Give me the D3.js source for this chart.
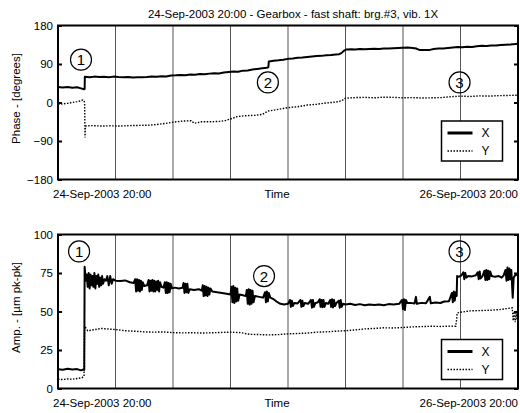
<!DOCTYPE html>
<html>
<head>
<meta charset="utf-8">
<script src="https://cdn.jsdelivr.net/npm/d3@7"></script>
<style>
body { margin: 0; background: #fff; }
svg { display: block; font-family: Arial, "Liberation Sans", Helvetica, sans-serif; }
</style>
</head>
<body>
<svg id="chart" width="520" height="413"></svg>
<script>
// time in hours from 24-Sep-2003 20:00
var timeDomain = [0, 48];
var gridHours = [6, 12, 18, 24, 30, 36, 42];
var timeLabels = ['24-Sep-2003 20:00', 'Time', '26-Sep-2003 20:00'];
var phaseTicks = [180, 90, 0, -90, -180];
var ampTicks = [100, 75, 50, 25, 0];
var legendNames = ['X', 'Y'];
var titleText = '24-Sep-2003 20:00 - Gearbox - fast shaft: brg.#3, vib. 1X';

// [hour, degrees]
var phaseX = [[0,36.5],[0.5,35],[1,36],[1.5,34.5],[2,35.5],[2.4,33],[2.7,31],[2.78,31.5],[2.8,60],[3.3,59],[3.8,60.5],[4.3,59.5],[4.8,60],
	[5.3,59],[5.8,60.5],[6.3,59.5],[6.8,59],[7.3,59.8],[7.8,58.5],[8.3,59.2],[8.8,58.8],[9.3,59.5],[9.8,60.5],[10.3,60],[10.8,61.5],
	[11.3,61],[11.8,63],[12.3,63.5],[12.8,64.5],[13.3,63.8],[13.8,65.5],[14.3,65],[14.8,66.5],[15.3,66],[15.8,67.5],[16.3,68.5],
	[16.8,68],[17.3,70],[17.8,71.5],[18.3,72.5],[18.8,72],[19.3,74.5],[19.8,75],[20.3,77],[20.8,78.5],[21.3,80],[21.8,81],[21.95,82.5],
	[22,96],[22.5,97.5],[23,98.5],[23.5,100],[24,102],[24.5,103],[25,104.5],[25.5,105],[26,106.5],[26.5,107.5],[27,108.5],[27.5,109],
	[28,110.5],[28.5,111],[29,112],[29.3,112.5],[29.6,116],[29.9,122],[30.1,124],[30.6,124.5],[31,124],[31.5,124.8],[32,124.5],
	[32.5,125],[33,125.5],[33.5,125],[34,126],[34.5,126.5],[35,126.8],[35.5,127.3],[36,128],[36.5,128.3],[37,127.5],[37.4,126],
	[37.7,122.8],[38.3,122.5],[38.8,123],[39.2,125],[39.7,126],[40.2,126.5],[40.7,127.5],[41.2,128.5],[41.7,129.5],[42.2,129],
	[42.7,130.5],[43.2,130],[43.7,131.5],[44.2,132.5],[44.7,132],[45.2,133.5],[45.7,133],[46.2,134.5],[46.7,135],[47.2,135.5],
	[47.7,136.5],[48,137.5]];

var phaseY = [[0,-4.5],[0.5,-3],[1,-2],[1.5,0],[2,2],[2.4,4],[2.6,6],[2.72,4],[2.78,-2],[2.82,-82],[2.86,-55],[3.5,-54],[4.5,-55],
	[5.5,-54.5],[6.5,-55],[7.5,-54],[8.5,-53.5],[9.5,-53],[10.5,-51],[11.5,-48],[12,-46],[13,-43.5],[13.9,-42.5],[14.2,-48.5],
	[14.6,-47],[15,-45],[16,-45],[17,-44],[17.5,-42],[18,-38.5],[18.7,-33],[19.5,-31],[20.5,-30],[21.3,-28],[21.9,-20],[22.5,-18],
	[23.5,-14],[24,-12],[25,-10],[26,-6],[27,-4],[28,-1],[29,1],[29.6,4],[30,10],[31,11.5],[32,12],[33,11],[34,12.5],[35,12],
	[36,11],[37,11.5],[38,10.5],[39,11],[40,11.5],[41,13.5],[42,15],[43,14],[44,15.5],[45,15],[46,16],[47,16.5],[48,17]];

// [hour, um pk-pk]
var ampX = [[0,12.5],[0.5,12.2],[1,12.8],[1.5,12.4],[2,12.6],[2.4,11.8],[2.65,12.3],[2.74,12.2],
	[2.78,79],[2.9,70],[3.0,74],[3.1,66],[3.2,75],[3.3,65],[3.4,74],[3.5,67],[3.6,73],[3.7,66],[3.8,75],[3.9,65],[4.0,73],[4.1,68],
	[4.2,74],[4.3,66],[4.4,72],[4.5,67],[4.6,73],[4.7,68],[4.85,71],[5.0,70],[5.15,73],[5.3,67],[5.45,73],[5.6,68],[5.75,71],
	[6.0,70],[6.5,69.8],[7.0,70.2],[7.5,69],[7.9,68.5],
	[8.05,71],[8.15,63],[8.25,71],[8.35,63.5],[8.45,70.5],[8.55,63],[8.65,70],[8.75,64],[8.85,69],[9.0,66.5],[9.3,67],
	[9.45,70.5],[9.55,63],[9.65,70],[9.75,63.5],[9.85,70.5],[9.95,63],[10.05,70],[10.15,63],[10.25,69.5],[10.35,64],[10.45,70],
	[10.55,63],[10.65,69],[10.8,66],[11.0,65.5],[11.15,69],[11.25,62],[11.35,69],[11.45,62],[11.55,68.5],[11.65,62.5],[11.75,68],
	[11.9,65],[12.2,65.5],[12.6,65],[13.0,65.4],[13.1,68.5],[13.2,62],[13.3,68],[13.4,62.5],[13.5,68],[13.6,62],[13.75,64.5],
	[14.2,64],[14.7,64.5],[15.0,63.5],[15.1,67],[15.2,60],[15.3,66.5],[15.4,60.5],[15.5,66],[15.6,60],[15.7,65.5],[15.8,61],
	[15.9,65],[16.1,63],[16.6,62.5],[17.1,62],[17.6,61.5],[18.0,61],
	[18.1,66],[18.2,56],[18.3,66.5],[18.4,55.5],[18.5,65.5],[18.6,56.5],[18.7,65],[18.8,57],[18.95,61],[19.3,60.5],[19.6,60],
	[19.7,64],[19.8,55],[19.9,64.5],[20.0,54.5],[20.1,64],[20.2,55],[20.3,63.5],[20.4,56],[20.55,60],[21.0,59.5],[21.4,59],
	[21.6,62.5],[21.7,56],[21.8,63],[21.9,56.5],[22.0,62],[22.15,59],[22.5,58],[22.8,56.5],[23.2,55],[23.6,54.5],[24.0,55],
	[24.2,57.5],[24.3,53],[24.4,57],[24.5,53.5],[24.65,55.5],[25.0,55.2],[25.3,57.5],[25.4,53],[25.5,57],[25.6,53.5],[25.75,55.5],
	[26.1,55],[26.4,57.5],[26.5,52.5],[26.6,57.5],[26.7,53],[26.85,55.5],[27.1,55.8],[27.3,58],[27.4,53],[27.5,57.5],[27.6,52.8],
	[27.7,57.5],[27.8,53],[27.95,55.5],[28.2,55],[28.4,57.5],[28.5,53],[28.6,58],[28.7,52.6],[28.8,57.5],[28.9,53.5],[29.05,55.5],
	[29.3,57],[29.4,52.5],[29.5,57.5],[29.6,53],[29.75,55],[30.0,54.6],
	[30.5,55],[31,54.2],[31.5,54.8],[32,54],[32.5,54.6],[33,54.2],[33.5,54.5],[34,54],[34.5,54.8],[35,54.5],[35.6,55],
	[35.9,57.5],[36.0,51.5],[36.1,58],[36.2,51],[36.3,57.5],[36.45,55.5],[36.8,55.6],[37.2,55.2],[37.35,59.5],[37.45,55],
	[37.9,55.6],[38.4,55.4],[38.8,59.5],[38.9,55.3],[39.4,55.8],[39.9,55.5],[40.3,56.5],[40.8,56.7],
	[41.1,62],[41.2,56],[41.3,63],[41.4,57],[41.5,62.5],[41.6,60],[41.65,73],[41.8,72.5],[42.1,73.5],[42.3,75.5],[42.4,71],
	[42.5,75],[42.6,72],[42.8,73],[43.2,72.8],[43.6,73.5],[43.8,75.5],[43.9,71],[44.0,76],[44.1,71.5],[44.3,73],[44.5,76.5],
	[44.6,70.5],[44.7,77],[44.8,70.5],[44.9,76.5],[45.0,71],[45.1,76],[45.25,73],[45.6,72.5],[46.0,73],[46.3,72],[46.5,73.5],
	[46.7,77],[46.8,70],[46.9,78.5],[47.0,70.5],[47.1,78],[47.2,71],[47.3,77],[47.45,59],[47.55,72],[47.7,73.5],[48,74]];

var ampY = [[0,6],[0.5,5.8],[1,6.2],[1.5,6],[2,6.5],[2.5,7],[2.72,8],[2.78,40.5],[3.1,37.5],[3.6,38],[4.5,39],[5.5,38.5],
	[6,38.3],[7,37.5],[8,37.2],[9,36.8],[10,36.6],[11,36.7],[12,36.3],[13,36.1],[14,36.2],[15,36],[16,36.2],[17,36.4],[18,36.6],
	[19,36.3],[20,35.2],[21,35],[22,34.8],[23,35],[24,35.5],[25,35.7],[26,36],[27,36.6],[28,36.8],[29,37.2],[30,37.5],[31,38],
	[32,38.7],[33,39],[34,39.4],[35,39.3],[36,39.6],[37,40],[38,40.2],[39,40.4],[40,40.3],[41,40.5],[41.5,40.4],[41.6,45],
	[41.65,49],[42,49.5],[43,50.4],[44,50.6],[45,50.8],[46,51.2],[47,52],[47.4,52.4],[47.5,44],[47.6,50],[47.7,43],[47.8,49],
	[47.9,44.5],[48,48]];

var phaseMarks = [{n: '1', t: 2.4, v: 100}, {n: '2', t: 21.9, v: 47}, {n: '3', t: 41.9, v: 47}];
var ampMarks = [{n: '1', t: 2.2, v: 89}, {n: '2', t: 21.5, v: 73}, {n: '3', t: 41.9, v: 89}];

var svg = d3.select('#chart');

var x = d3.scaleLinear().domain(timeDomain).range([58, 518]);

svg.append('text')
	.attr('x', 293)
	.attr('y', 18)
	.attr('text-anchor', 'middle')
	.style('font-size', '11.5px')
	.text(titleText);

drawPanel = function(name, top, domain, ticks, label, sx, sy, marks, legendTop) {

	var bottom = top + 154;
	var y = d3.scaleLinear().domain(domain).range([bottom, top]);

	var g = svg.append('g')
		.attr('class', name);

	g.append('clipPath')
		.attr('id', 'clip-' + name)
		.append('rect')
		.attr('x', x(timeDomain[0]))
		.attr('y', top)
		.attr('width', x(timeDomain[1]) - x(timeDomain[0]))
		.attr('height', bottom - top);

	g.selectAll('line.grid')
		.data(gridHours)
		.enter().append('line')
		.attr('class', 'grid')
		.attr('x1', function(d) { return x(d); })
		.attr('x2', function(d) { return x(d); })
		.attr('y1', top)
		.attr('y2', bottom)
		.style('stroke', '#555')
		.style('stroke-width', 1);

	var line = d3.line()
		.x(function(d) { return x(d[0]); })
		.y(function(d) { return y(d[1]); });

	g.append('path')
		.datum(sy)
		.attr('clip-path', 'url(#clip-' + name + ')')
		.attr('d', line)
		.style('fill', 'none')
		.style('stroke', '#000')
		.style('stroke-width', 1.4)
		.style('stroke-dasharray', '1.5,1.5');

	g.append('path')
		.datum(sx)
		.attr('clip-path', 'url(#clip-' + name + ')')
		.attr('d', line)
		.style('fill', 'none')
		.style('stroke', '#000')
		.style('stroke-width', 2)
		.style('stroke-linejoin', 'round');

	// circled event numbers
	var m = g.selectAll('g.mark')
		.data(marks)
		.enter().append('g')
		.attr('class', 'mark')
		.attr('transform', function(d) { return 'translate(' + x(d.t) + ',' + y(d.v) + ')'; });

	m.append('circle')
		.attr('r', 10.5)
		.style('fill', 'none')
		.style('stroke', '#000')
		.style('stroke-width', 1.2);

	m.append('text')
		.attr('text-anchor', 'middle')
		.attr('y', 5.5)
		.style('font-size', '15px')
		.text(function(d) { return d.n; });

	var left = d3.axisLeft(y).tickValues(ticks).tickSize(-4).tickPadding(5);
	var right = d3.axisRight(y).tickValues(ticks).tickSize(-4).tickFormat('');

	var la = g.append('g')
		.attr('transform', 'translate(' + x(timeDomain[0]) + ',0)')
		.call(left);
	var ra = g.append('g')
		.attr('transform', 'translate(' + x(timeDomain[1]) + ',0)')
		.call(right);

	[la, ra].forEach(function(a) {
		a.select('.domain').remove();
		a.selectAll('line').style('stroke', '#000').style('stroke-width', 2);
		a.selectAll('text')
			.style('font-size', '11.5px')
			.style('font-family', 'Arial, "Liberation Sans", sans-serif')
			.style('fill', '#000');
	});

	g.append('rect')
		.attr('x', x(timeDomain[0]))
		.attr('y', top)
		.attr('width', x(timeDomain[1]) - x(timeDomain[0]))
		.attr('height', bottom - top)
		.style('fill', 'none')
		.style('stroke', '#000')
		.style('stroke-width', 2);

	// time labels
	g.append('text')
		.attr('x', x(timeDomain[0]) - 5)
		.attr('y', bottom + 18)
		.style('font-size', '11.5px')
		.text(timeLabels[0]);
	g.append('text')
		.attr('x', 277)
		.attr('y', bottom + 18)
		.attr('text-anchor', 'middle')
		.style('font-size', '11.5px')
		.text(timeLabels[1]);
	g.append('text')
		.attr('x', x(timeDomain[1]))
		.attr('y', bottom + 18)
		.attr('text-anchor', 'end')
		.style('font-size', '11.5px')
		.text(timeLabels[2]);

	g.append('text')
		.attr('text-anchor', 'middle')
		.attr('transform', 'translate(20,' + (top + 73) + ') rotate(-90)')
		.style('font-size', '11.5px')
		.text(label);

	// legend
	var lg = g.append('g')
		.attr('transform', 'translate(441.5,' + legendTop + ')');

	lg.append('rect')
		.attr('width', 61)
		.attr('height', 40)
		.style('fill', '#fff')
		.style('stroke', '#000')
		.style('stroke-width', 1.5);

	lg.append('line')
		.attr('x1', 6).attr('x2', 31)
		.attr('y1', 12).attr('y2', 12)
		.style('stroke', '#000')
		.style('stroke-width', 3);

	lg.append('line')
		.attr('x1', 6).attr('x2', 31)
		.attr('y1', 30).attr('y2', 30)
		.style('stroke', '#000')
		.style('stroke-width', 1.4)
		.style('stroke-dasharray', '1.5,1.5');

	lg.selectAll('text')
		.data(legendNames)
		.enter().append('text')
		.attr('x', 40)
		.attr('y', function(d, i) { return 16 + i * 18; })
		.style('font-size', '12px')
		.text(function(d) { return d; });
};

drawPanel('phase', 25.5, [-180, 180], phaseTicks, 'Phase - [degrees]', phaseX, phaseY, phaseMarks, 121);
drawPanel('amp', 234.5, [0, 100], ampTicks, 'Amp. - [\u00b5m pk-pk]', ampX, ampY, ampMarks, 339.5);
</script>
</body>
</html>
